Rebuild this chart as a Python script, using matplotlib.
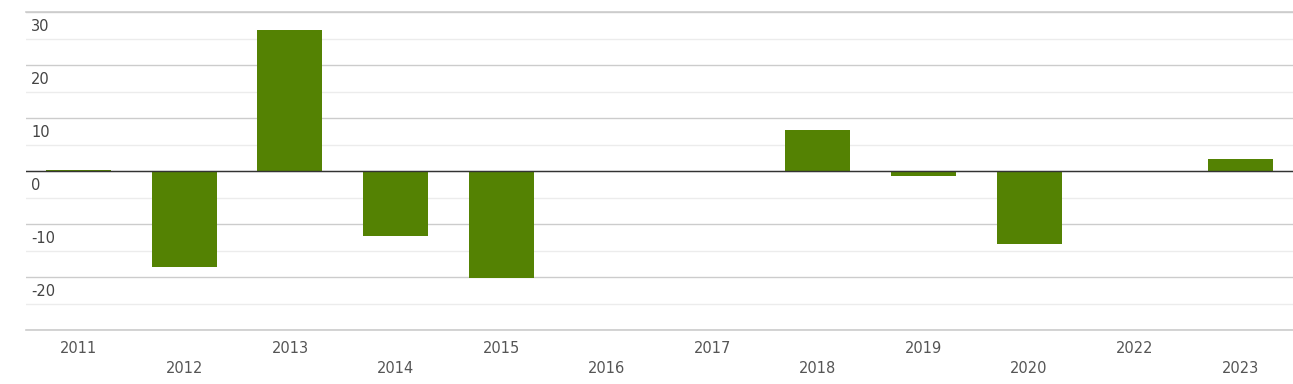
import matplotlib
matplotlib.use("Agg")
import matplotlib.pyplot as plt
from matplotlib.ticker import MultipleLocator

years = ["2011", "2012", "2013", "2014", "2015", "2016", "2017",
         "2018", "2019", "2020", "2022", "2023"]
values = [0.2, -18.2, 26.6, -12.2, -20.1, 0, 0, 7.8, -1.0, -13.7, 0, 2.3]
y_ticks = [-20, -10, 0, 10, 20, 30]

W, H = 1293, 384
fig = plt.figure(figsize=(W / 100, H / 100), dpi=100)
ax = fig.add_axes([26 / W, 1 - 330 / H, 1 - 26 / W, (330 - 12) / H])

x = list(range(len(years)))
ax.bar(x, values, width=0.615, color="#548203", zorder=3)

ax.set_xlim(-0.5, len(years) - 0.5)
ax.set_ylim(-30, 30)

ax.yaxis.set_major_locator(MultipleLocator(10))
ax.yaxis.set_minor_locator(MultipleLocator(5))
ax.grid(axis="y", which="minor", color="#ececec", linewidth=1, zorder=0)
ax.grid(axis="y", which="major", color="#cccccc", linewidth=1, zorder=1)
ax.axhline(-30, color="#cccccc", linewidth=1.2, zorder=1, clip_on=False)
ax.axhline(30, color="#cccccc", linewidth=1.2, zorder=1, clip_on=False)
ax.axhline(0, color="#333333", linewidth=1, zorder=4)

for s in ax.spines.values():
    s.set_visible(False)
ax.tick_params(axis="both", which="both", length=0, labelleft=False,
               labelbottom=False)

# y labels sit inside the plot, just under their gridline
for v in y_ticks:
    ax.annotate(str(v), xy=(0, v), xycoords=("axes fraction", "data"),
                xytext=(5, -7), textcoords="offset pixels",
                ha="left", va="top", fontsize=10.5, color="#444444")

# staggered year labels
for i, yr in enumerate(years):
    off = -11 if i % 2 == 0 else -31
    ax.annotate(yr, xy=(i, 0), xycoords=("data", "axes fraction"),
                xytext=(0, off), textcoords="offset pixels",
                ha="center", va="top", fontsize=10.5, color="#555555")

fig.savefig("out.png", dpi=100)
